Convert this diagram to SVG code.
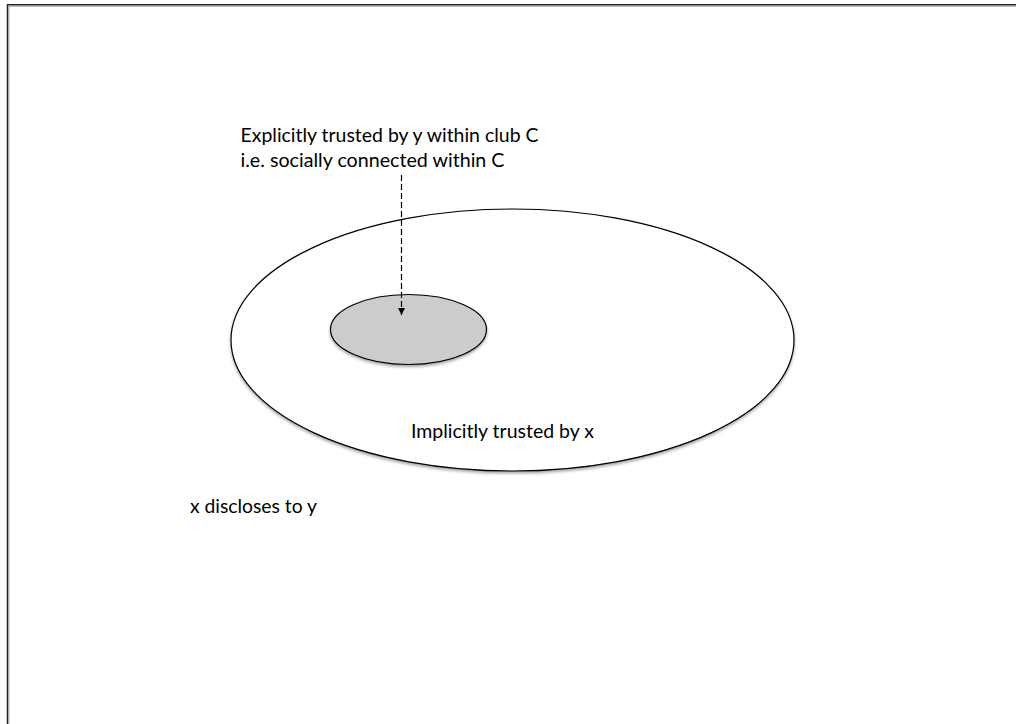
<svg xmlns="http://www.w3.org/2000/svg" width="1016" height="724" viewBox="0 0 1016 724">
  <style>
    .lbl { font-family: Lato, "Open Sans", "Liberation Sans", sans-serif; font-size: 18.5px; fill: #000; }
    .frame { stroke: #222; stroke-width: 1.5; fill: none; }
    .frame-shade { stroke: #bbb; stroke-width: 1; fill: none; }
    .ring { stroke: #000; stroke-width: 1.2; }
    .link { stroke: #000; stroke-width: 1.2; stroke-dasharray: 6 3; fill: none; }
  </style>
  <defs>
    <marker id="arrow" viewBox="0 0 10 10" refX="10" refY="5" markerWidth="7" markerHeight="8" markerUnits="userSpaceOnUse" orient="auto">
      <path d="M0,0 L10,5 L0,10 z" fill="#000"/>
    </marker>
    <filter id="shadow" x="-20%" y="-20%" width="140%" height="150%">
      <feDropShadow dx="0" dy="2" stdDeviation="1.5" flood-color="#000" flood-opacity="0.35"/>
    </filter>
  </defs>

  <rect width="1016" height="724" fill="#fff"/>

  <!-- page frame: top and left edges -->
  <g id="frame">
    <path class="frame-shade" d="M9,724 V6.5 H1016"/>
    <path class="frame" d="M7.5,724 V4.75 H1016"/>
  </g>

  <g id="outer-set">
    <ellipse class="ring" cx="512.5" cy="340" rx="281.5" ry="131" fill="#fff" filter="url(#shadow)"/>
    <text class="lbl" x="411" y="438" textLength="183" lengthAdjust="spacingAndGlyphs">Implicitly trusted by x</text>
  </g>

  <g id="inner-set">
    <ellipse class="ring" cx="408.5" cy="329.5" rx="78" ry="35" fill="#cccccc" filter="url(#shadow)"/>
  </g>

  <g id="callout">
    <text class="lbl" x="240.5" y="142" textLength="298" lengthAdjust="spacingAndGlyphs">Explicitly trusted by y within club C</text>
    <text class="lbl" x="240.5" y="167" textLength="264" lengthAdjust="spacingAndGlyphs">i.e. socially connected within C</text>
  </g>

  <g id="caption">
    <text class="lbl" x="190" y="513" textLength="127" lengthAdjust="spacingAndGlyphs">x discloses to y</text>
  </g>

  <g id="connectors">
    <line class="link" x1="401.5" y1="175" x2="401.5" y2="315" marker-end="url(#arrow)"/>
  </g>
</svg>
